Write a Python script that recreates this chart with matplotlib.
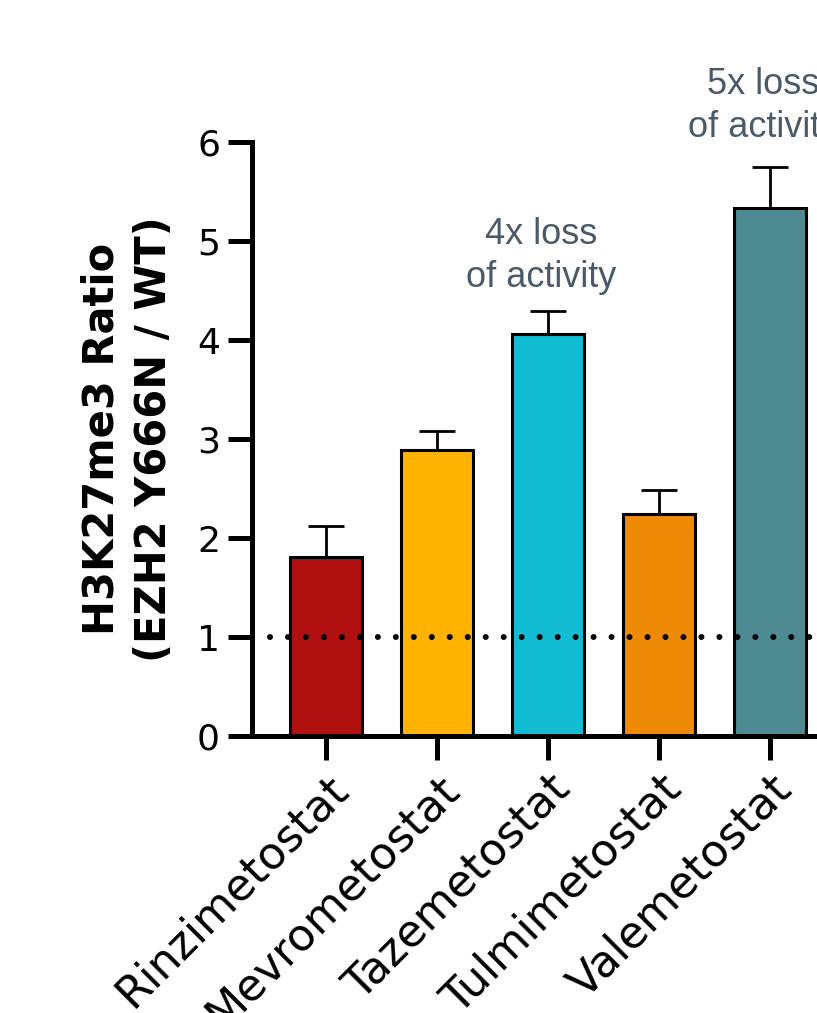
import matplotlib
matplotlib.use("Agg")
import matplotlib.pyplot as plt

categories = ["Rinzimetostat", "Mevrometostat", "Tazemetostat", "Tulmimetostat", "Valemetostat"]
values = [1.81, 2.89, 4.06, 2.24, 5.33]
errors = [0.31, 0.19, 0.23, 0.25, 0.42]
colors = ["#B01010", "#FDB300", "#12BCD2", "#EE8A05", "#4E8A92"]
annotations = {2: "4x loss\nof activity", 4: "5x loss\nof activity"}
annot_y = {2: 4.45, 4: 5.97}
reference_level = 1
yticks = [0, 1, 2, 3, 4, 5, 6]

plt.rcParams['font.family'] = ['DejaVu Sans']

fig = plt.figure(figsize=(8.17, 10.13), dpi=100)
ax = fig.add_axes([0.3084, 0.2734, 0.7247, 0.5864])

x = list(range(len(categories)))
ax.bar(x, values, width=0.65, color=colors, edgecolor="black", linewidth=2.2, zorder=2)
ax.errorbar(x, values, yerr=[[0] * len(errors), errors], fmt="none", ecolor="black",
            elinewidth=2.0, capsize=13.3, capthick=2.0, zorder=3)
ax.axhline(reference_level, color="black", linestyle=(0, (0.01, 3.0)), linewidth=4.3,
           dash_capstyle="round", zorder=4)

for i, txt in annotations.items():
    ax.annotate(txt, xy=(x[i], annot_y[i]), xytext=(-5, 0), textcoords="offset points",
                ha="center", va="bottom", fontsize=26, family="Liberation Sans",
                color="#4B5A69", linespacing=1.3, annotation_clip=False)

ax.set_xlim(-0.67, 4.67)
ax.set_ylim(0, 6)
ax.set_yticks(yticks)
ax.set_xticks(x)
ax.set_xticklabels(categories, rotation=45, ha="right", va="top",
                   rotation_mode="anchor", fontsize=32)
ax.tick_params(axis="x", length=17, width=3.6, pad=5)
ax.tick_params(axis="y", length=17, width=3.6, pad=6, labelsize=26)

for s in ["top", "right"]:
    ax.spines[s].set_visible(False)
for s in ["left", "bottom"]:
    ax.spines[s].set_linewidth(3.6)

ax.set_ylabel("H3K27me3 Ratio\n(EZH2 Y666N / WT)", fontsize=30, fontweight="bold",
              labelpad=16, linespacing=1.3)

fig.savefig("out.png", dpi=100)
